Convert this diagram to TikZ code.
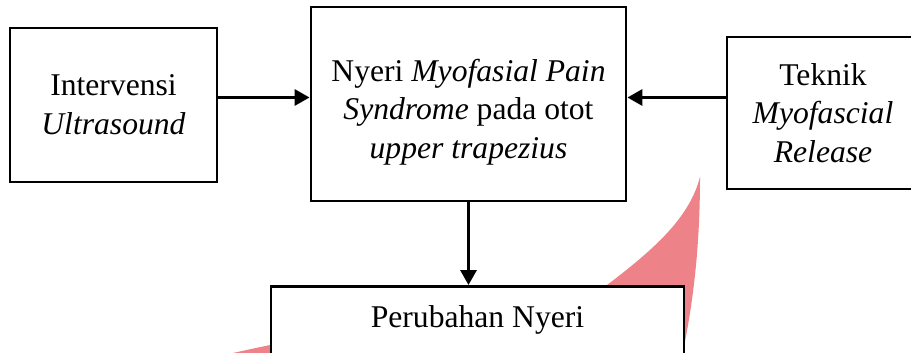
\documentclass[tikz,border=0pt]{standalone}
\usepackage{fontspec}
\setmainfont{Liberation Serif}
\usetikzlibrary{arrows.meta}

\definecolor{swoosh}{RGB}{238,130,137}

\tikzset{
  txt/.style={align=center, font=\fontsize{18}{22}\selectfont},
  box/.style={draw=black, line width=1.6pt, fill=white, txt},
  arr/.style={line width=1.8pt, -{Triangle[length=0.3cm, width=0.32cm]}}
}

\begin{document}
\begin{tikzpicture}

    \clip (0,0) rectangle (18.22,-7.04);

    % pink swoosh behind the bottom box
    \fill[swoosh] (14.0,-3.54) .. controls (14.0,-5.0) and (13.85,-6.2) .. (13.6,-7.3)
        -- (3.4,-7.37) .. controls (6.4,-6.56) and (10.8,-6.0) .. (12.14,-5.7)
        .. controls (13.2,-4.9) and (13.8,-4.3) .. (14.0,-3.54) -- cycle;

    \node[box, minimum width=4.14cm, minimum height=3.08cm] (interv) at (2.27,-2.1)
        {Intervensi\\ \textit{Ultrasound}};
    \node[box, minimum width=6.3cm, minimum height=3.88cm,
          label={[txt, yshift=-1.6mm]center:{Nyeri \textit{Myofasial Pain}\\ \textit{Syndrome} pada otot\\ \textit{upper trapezius}}}]
        (nyeri) at (9.37,-2.08) {};
    \node[box, minimum width=3.84cm, minimum height=3.04cm] (teknik) at (16.46,-2.26)
        {Teknik\\ \textit{Myofascial}\\ \textit{Release}};
    \node[box, anchor=north, minimum width=8.26cm, text height=0.82cm, text depth=1.5cm,
          inner ysep=0pt] (ubah) at (9.55,-5.7) {Perubahan Nyeri};

    \coordinate (masuk) at ([yshift=1.3mm]nyeri.west);
    \coordinate (keluar) at ([yshift=1.3mm]nyeri.east);

    \draw[arr] (interv.east |- masuk) -- (masuk);
    \draw[arr] (teknik.west |- keluar) -- (keluar);
    \draw[arr] (nyeri.south) -- (nyeri.south |- ubah.north);

\end{tikzpicture}
\end{document}
